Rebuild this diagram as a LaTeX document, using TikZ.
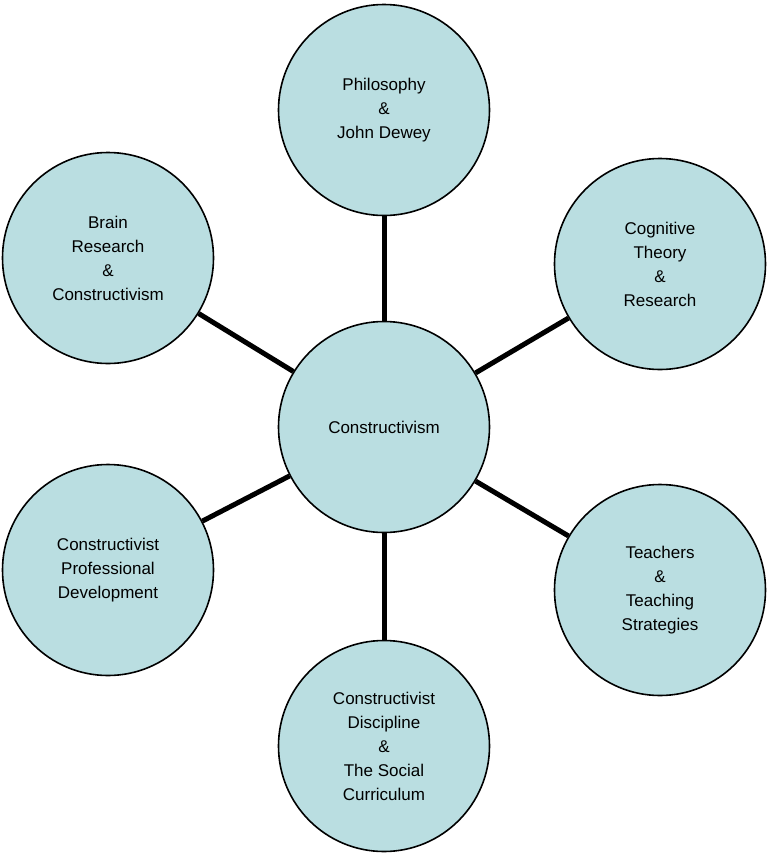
\documentclass[tikz,border=0pt]{standalone}
\usepackage{fontspec}
\setmainfont{Liberation Sans}
\definecolor{cfill}{RGB}{186,222,225}
\begin{document}
\begin{tikzpicture}[x=1pt,y=-1pt,
  bub/.style={circle,draw=black,line width=1.6pt,fill=cfill,minimum size=211pt,inner sep=0pt,align=center,font=\fontsize{17}{24}\selectfont},
  link/.style={line width=5pt}]
\useasboundingbox (0,0) rectangle (768,855);
\node[bub] (c) at (384,427) {Constructivism};
\node[bub] (t) at (384,110) {Philosophy\\\&\\John Dewey};
\node[bub] (tr) at (660,264) {Cognitive\\Theory\\\&\\Research};
\node[bub] (tl) at (108,258) {Brain\\Research\\\&\\Constructivism};
\node[bub] (bl) at (108,570) {Constructivist\\Professional\\Development};
\node[bub] (br) at (660,590) {Teachers\\\&\\Teaching\\Strategies};
\node[bub] (b) at (384,746) {Constructivist\\Discipline\\\&\\The Social\\Curriculum};
\begin{scope}[on background layer/.style={}]
\foreach \n in {t,tr,tl,bl,br,b} \draw[link] (c) -- (\n);
\end{scope}
\end{tikzpicture}
\end{document}
